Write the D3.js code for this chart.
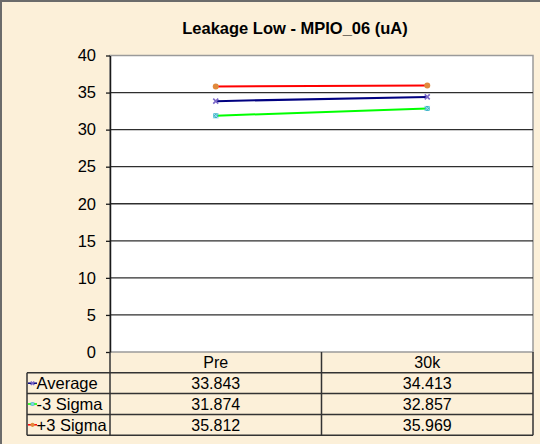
<!DOCTYPE html>
<html lang="en">
<head>
<meta charset="UTF-8">
<title>Leakage Low - MPIO_06 (uA)</title>
<script src="https://d3js.org/d3.v7.min.js"></script>
<style>
    body { margin: 0; }
    svg { display: block; font-family: "Liberation Sans", Arial, sans-serif; }
</style>
</head>
<body>
<svg width="540" height="444"></svg>
<script>
    const categories = ["Pre", "30k"];
    const seriesNames = ["Average", "-3 Sigma", "+3 Sigma"];
    const average = [33.843, 34.413];
    const minus3Sigma = [31.874, 32.857];
    const plus3Sigma = [35.812, 35.969];
    const yTicks = [0, 5, 10, 15, 20, 25, 30, 35, 40];

    const series = [
        { name: seriesNames[0], values: average, line: "#000080", marker: "#7b68c8", shape: "x" },
        { name: seriesNames[1], values: minus3Sigma, line: "#00ff00", marker: "#3cb4c8", shape: "sq" },
        { name: seriesNames[2], values: plus3Sigma, line: "#ff0000", marker: "#e08a3c", shape: "circle" }
    ];

    const plotLeft = 110, plotRight = 533, plotTop = 55.5, plotBottom = 352;
    const tableLeft = 27;
    const rowH = 20.8;

    const svg = d3.select("svg");

    svg.append("rect")
        .attr("x", 0).attr("y", 0).attr("width", 540).attr("height", 444)
        .attr("fill", "#fcf0d9");
    svg.append("rect")
        .attr("x", 1).attr("y", 1).attr("width", 545).attr("height", 450)
        .attr("fill", "none").attr("stroke", "#6b6b6b").attr("stroke-width", 2);

    svg.append("text")
        .attr("x", 295).attr("y", 34)
        .attr("text-anchor", "middle")
        .attr("font-size", 16.5).attr("font-weight", "bold")
        .text("Leakage Low - MPIO_06 (uA)");

    const x = d3.scaleBand().domain(categories).range([plotLeft, plotRight]);
    const y = d3.scaleLinear().domain([0, 40]).range([plotBottom, plotTop]);

    svg.append("rect")
        .attr("x", plotLeft).attr("y", plotTop)
        .attr("width", plotRight - plotLeft).attr("height", plotBottom - plotTop)
        .attr("fill", "#ffffff").attr("stroke", "#9a9a9a").attr("stroke-width", 1.5);

    // grid lines
    svg.append("g").selectAll("line")
        .data(yTicks.filter(d => d > 0 && d < 40))
        .enter().append("line")
        .attr("x1", plotLeft).attr("x2", plotRight)
        .attr("y1", d => y(d)).attr("y2", d => y(d))
        .attr("stroke", "#2e2e2e").attr("stroke-width", 1.3);

    // y axis
    const yAxis = svg.append("g")
        .attr("transform", `translate(${plotLeft},0)`)
        .call(d3.axisLeft(y).tickValues(yTicks).tickSize(4).tickPadding(10).tickSizeOuter(0));
    yAxis.select(".domain").attr("stroke", "#1a1a1a").attr("stroke-width", 1.5);
    yAxis.selectAll(".tick line").attr("stroke", "#1a1a1a").attr("stroke-width", 1.3);
    yAxis.selectAll(".tick text")
        .attr("font-size", 16.5).attr("fill", "#000")
        .attr("font-family", "'Liberation Sans', Arial, sans-serif");

    // lines and markers
    const lineGen = d3.line()
        .x((d, i) => x(categories[i]) + x.bandwidth() / 2)
        .y(d => y(d));

    function drawMarker(g, s, cx, cy, size) {
        if (s.shape === "circle") {
            g.append("circle").attr("cx", cx).attr("cy", cy).attr("r", size * 0.6)
                .attr("fill", s.marker);
        } else if (s.shape === "x") {
            g.append("path")
                .attr("d", `M${cx - size / 2},${cy - size / 2}L${cx + size / 2},${cy + size / 2}M${cx - size / 2},${cy + size / 2}L${cx + size / 2},${cy - size / 2}`)
                .attr("stroke", s.marker).attr("stroke-width", 1.6);
        } else {
            g.append("rect").attr("x", cx - size / 2).attr("y", cy - size / 2)
                .attr("width", size).attr("height", size).attr("fill", s.marker);
            g.append("path")
                .attr("d", `M${cx - size / 2},${cy - size / 2}L${cx + size / 2},${cy + size / 2}M${cx - size / 2},${cy + size / 2}L${cx + size / 2},${cy - size / 2}`)
                .attr("stroke", "#a8e0ec").attr("stroke-width", 1);
        }
    }

    const marks = svg.append("g");
    series.forEach(s => {
        marks.append("path")
            .attr("d", lineGen(s.values))
            .attr("fill", "none").attr("stroke", s.line).attr("stroke-width", 2);
        s.values.forEach((v, i) => {
            drawMarker(marks, s, x(categories[i]) + x.bandwidth() / 2, y(v), 5);
        });
    });

    // data table
    const table = svg.append("g");
    const tableBottom = plotBottom + rowH * (series.length + 1);
    const stroke = "#333";

    table.append("line").attr("x1", plotLeft).attr("x2", plotRight)
        .attr("y1", plotBottom + rowH).attr("y2", plotBottom + rowH)
        .attr("stroke", stroke).attr("stroke-width", 1.5);
    series.forEach((s, i) => {
        const yy = plotBottom + rowH * (i + 2);
        table.append("line").attr("x1", tableLeft).attr("x2", plotRight).attr("y1", yy).attr("y2", yy)
            .attr("stroke", stroke).attr("stroke-width", 1.5);
    });
    table.append("line").attr("x1", tableLeft).attr("x2", plotLeft)
        .attr("y1", plotBottom + rowH).attr("y2", plotBottom + rowH)
        .attr("stroke", stroke).attr("stroke-width", 1.5);
    table.append("line").attr("x1", tableLeft).attr("x2", tableLeft)
        .attr("y1", plotBottom + rowH).attr("y2", tableBottom)
        .attr("stroke", stroke).attr("stroke-width", 1.5);
    [plotLeft, ...categories.map(c => x(c) + x.bandwidth())].forEach(xx => {
        table.append("line").attr("x1", xx).attr("x2", xx).attr("y1", plotBottom).attr("y2", tableBottom)
            .attr("stroke", stroke).attr("stroke-width", 1.5);
    });

    table.selectAll(".hdr")
        .data(categories)
        .enter().append("text")
        .attr("x", d => x(d) + x.bandwidth() / 2)
        .attr("y", plotBottom + rowH / 2 + 6)
        .attr("text-anchor", "middle")
        .attr("font-size", 16)
        .text(d => d);

    series.forEach((s, i) => {
        const cy = plotBottom + rowH * (i + 1) + rowH / 2;
        table.append("line").attr("x1", tableLeft + 1).attr("x2", tableLeft + 10)
            .attr("y1", cy).attr("y2", cy)
            .attr("stroke", s.line).attr("stroke-width", 1.5);
        drawMarker(table, s, tableLeft + 5.5, cy, 3.5);
        table.append("text")
            .attr("x", tableLeft + 9.5).attr("y", cy + 6)
            .attr("font-size", 16.5)
            .text(s.name);
        s.values.forEach((v, j) => {
            table.append("text")
                .attr("x", x(categories[j]) + x.bandwidth() / 2)
                .attr("y", cy + 6)
                .attr("text-anchor", "middle")
                .attr("font-size", 16)
                .text(d3.format(".3f")(v));
        });
    });
</script>
</body>
</html>
